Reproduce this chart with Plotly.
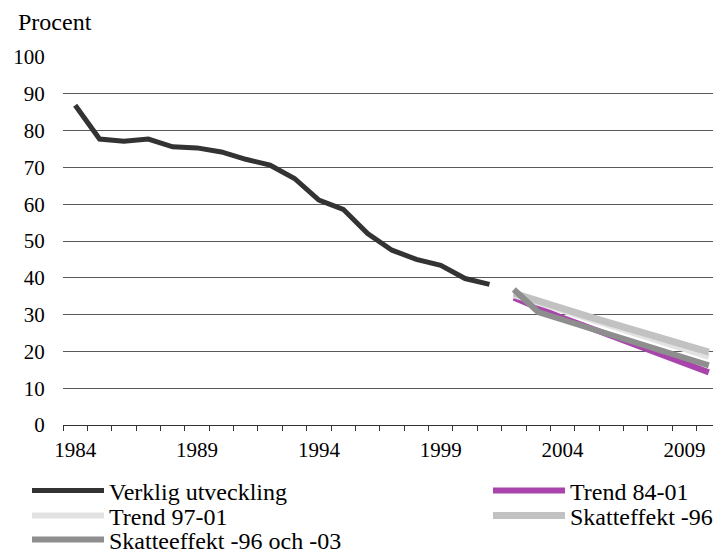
import plotly.graph_objects as go

years = [str(y) for y in range(1984, 2011)]
tick_labels = ["1984", "", "", "", "", "1989", "", "", "", "", "1994", "", "", "", "",
               "1999", "", "", "", "", "2004", "", "", "", "", "2009", ""]

hist_years = [str(y) for y in range(1984, 2002)]
verklig = [86.9, 77.7, 77.1, 77.7, 75.6, 75.3, 74.2, 72.2, 70.6, 67.0,
           61.1, 58.6, 52.0, 47.5, 45.0, 43.4, 39.8, 38.2]

proj_years = [str(y) for y in range(2002, 2011)]
trend_84_01 = [34.6, 31.8, 29.1, 26.7, 24.2, 21.7, 19.2, 16.8, 14.3]
trend_97_01 = [35.3, 33.2, 31.1, 29.0, 26.9, 24.8, 22.7, 20.6, 18.5]
skatt_96 = [35.8, 33.6, 31.6, 29.6, 27.6, 25.6, 23.6, 21.7, 19.8]
skatt_96_03 = [36.8, 30.7, 28.6, 26.6, 24.5, 22.4, 20.4, 18.3, 16.2]

FONT = "Liberation Serif"

fig = go.Figure()
fig.add_trace(go.Scatter(x=hist_years, y=verklig, mode="lines", name="Verklig utveckling",
                         line=dict(color="#333333", width=5), legend="legend", showlegend=True))
fig.add_trace(go.Scatter(x=proj_years, y=trend_84_01, mode="lines", name="Trend 84-01",
                         line=dict(color="#A844AC", width=6), legend="legend2", showlegend=True))
fig.add_trace(go.Scatter(x=proj_years, y=trend_97_01, mode="lines", name="Trend 97-01",
                         line=dict(color="#E2E2E2", width=6), legend="legend3", showlegend=True))
fig.add_trace(go.Scatter(x=proj_years, y=skatt_96, mode="lines", name="Skatteffekt -96",
                         line=dict(color="#C2C2C2", width=7), legend="legend4", showlegend=True))
fig.add_trace(go.Scatter(x=proj_years, y=skatt_96_03, mode="lines", name="Skatteeffekt -96 och -03",
                         line=dict(color="#8E8E8E", width=6), legend="legend5", showlegend=True))

# page body has an 8px margin, so the figure is drawn 8px smaller
W, H = 713, 549

def leg(xpx, ypx):
    return dict(x=xpx / W, y=1 - ypx / H, xref="container", yref="container",
                xanchor="left", yanchor="middle", bgcolor="rgba(0,0,0,0)",
                font=dict(family=FONT, size=24, color="#000000"), itemwidth=72)

fig.update_layout(
    width=W, height=H,
    showlegend=True,
    margin=dict(l=55, r=0, t=49, b=132, autoexpand=False),
    plot_bgcolor="white", paper_bgcolor="white",
    font=dict(family=FONT, size=21, color="#000000"),
    legend=leg(19, 483),
    legend2=leg(480, 483),
    legend3=leg(19, 508),
    legend4=leg(480, 508),
    legend5=leg(19, 532),
    xaxis=dict(type="category", categoryorder="array", categoryarray=years,
               range=[-0.5, 26.5], tickmode="array", tickvals=years, ticktext=tick_labels,
               tickson="boundaries", ticks="outside", ticklen=5, tickcolor="#333333",
               showline=True, linecolor="#333333", linewidth=1, showgrid=False,
               tickangle=0, automargin=False,
               tickfont=dict(family=FONT, size=21), ticklabelstandoff=6),
    yaxis=dict(range=[0, 100], tickvals=list(range(0, 101, 10)), showgrid=True,
               gridcolor="#595959", gridwidth=1, zeroline=False, showline=False,
               ticks="outside", ticklen=13, tickcolor="rgba(0,0,0,0)", automargin=False,
               tickfont=dict(family=FONT, size=21)),
    annotations=[dict(text="Procent", xref="paper", yref="paper", x=0, y=1,
                      xanchor="left", yanchor="middle", xshift=-47, yshift=35,
                      showarrow=False, font=dict(family=FONT, size=24))],
)

fig.write_html("out.html")
